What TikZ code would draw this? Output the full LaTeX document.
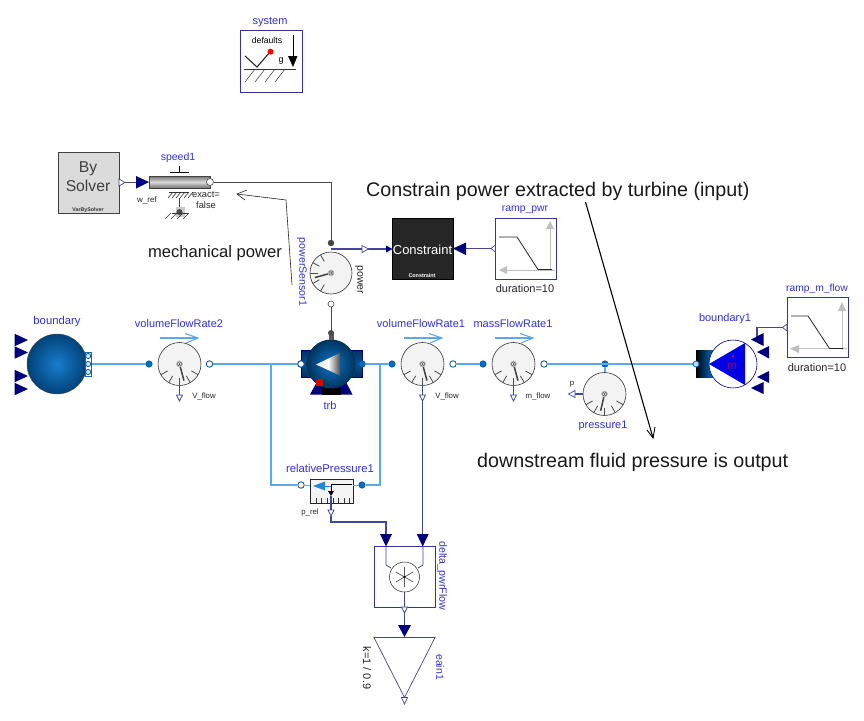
\documentclass[tikz,border=0pt]{standalone}
\usepackage{fontspec}
\setmainfont{Liberation Sans}
\usetikzlibrary{arrows.meta,calc}
\definecolor{nblue}{RGB}{50,50,210}
\definecolor{navyc}{RGB}{0,0,127}
\definecolor{sigc}{RGB}{70,70,150}
\definecolor{flu}{RGB}{90,170,235}
\definecolor{flud}{RGB}{0,110,200}
\definecolor{mech}{RGB}{70,70,70}
\definecolor{dial}{RGB}{243,243,243}
\tikzset{
 x=1pt,y=-1pt,
 lbl/.style={font=\fontsize{11}{12}\selectfont,text=nblue,inner sep=0pt},
 tiny/.style={font=\fontsize{7.8}{9}\selectfont,text=black!85,inner sep=0pt},
 par/.style={font=\fontsize{11}{12}\selectfont,text=black!85,inner sep=0pt},
 note/.style={font=\fontsize{19.7}{22}\selectfont,text=black!90,inner sep=0pt},
 blockbox/.style={draw=navyc!80!white,line width=.9pt,fill=white,inner sep=0pt},
 sig/.style={draw=sigc,line width=1.2pt},
 fl/.style={draw=flu,line width=1.25pt},
 mc/.style={draw=mech,line width=1pt},
 portA/.style={circle,draw=flud!70!black,fill=flud,minimum size=6.5pt,inner sep=0pt,line width=.5pt},
 portB/.style={circle,draw=flud!70!black,fill=white,minimum size=6.5pt,inner sep=0pt,line width=.8pt},
 mcfill/.style={circle,draw=mech,fill=mech,minimum size=6pt,inner sep=0pt},
 mcopen/.style={circle,draw=mech,fill=white,minimum size=6pt,inner sep=0pt,line width=.6pt},
 outp/.style={draw=sigc,fill=white,line width=.7pt},
 inp/.style={fill=navyc,draw=none},
}
\newcommand{\dialgauge}[5]{%
 \node[circle,draw=black!80,fill=dial,minimum size=#4*2pt,inner sep=0pt,line width=.6pt] (#1) at (#2,#3) {};
 \begin{scope}[shift={(#2,#3)}]
  \foreach \a in {#5} {\draw[black!70,line width=.8pt] (\a:#4*.64) -- (\a:#4);}
 \end{scope}}
\newcommand{\dialneedle}[4]{%
 \begin{scope}[shift={(#1,#2)}]
  \draw[black!75,line width=1.5pt] (0,0) -- (#4:#3*.8);
  \fill[black!25] (0,0) circle (3.4pt);
  \draw[black!70,line width=.5pt,fill=white] (0,0) circle (2pt);
  \fill[black!70] (0,0) circle (1pt);
 \end{scope}}
\newcommand{\flowarrow}[2]{% left x, y
 \draw[flu,line width=1.1pt] (#1,#2) -- (#1+38,#2);
 \draw[flu,line width=1.1pt] (#1+25,#2-4.5) -- (#1+38,#2) -- (#1+26,#2+5);}
\begin{document}
\begin{tikzpicture}
\useasboundingbox (0,0) rectangle (864,720);
\fill[white] (0,0) rectangle (864,720);

%% system
\node[lbl] (systemlbl) at (270,22) {system};
\node[blockbox,minimum width=62pt,minimum height=62pt] (system) at (271,61) {};
\node[font=\fontsize{8.6}{9}\selectfont,inner sep=0pt] (deflbl) at (267,40) {defaults};
\draw[black!85,line width=1.1pt] (245,56) -- (257,67) -- (270,52);
\fill[red] (270.5,51.7) circle (3pt);
\draw[black!80,line width=.6pt] (244,69) -- (296,69);
\foreach \xx in {255,265,275,285} \draw[black!80,line width=.5pt] (\xx,69) -- (\xx-10,82);
\draw[black,line width=.9pt] (293,35) -- (293,58);
\fill[black] (288,56) -- (297.5,56) -- (293,67) -- cycle;
\node[font=\fontsize{9}{10}\selectfont,inner sep=0pt] (glbl) at (281,61) {g};

%% By solver
\node[draw=black!75,fill=black!14,line width=.7pt,minimum width=61pt,minimum height=61pt,inner sep=0pt] (bysolver) at (88.5,182.5) {};
\node[font=\fontsize{15.7}{19}\selectfont,align=center,text=black!75,inner sep=0pt] (bytxt) at (88,177) {By\\Solver};
\node[font=\fontsize{5.3}{6}\selectfont\bfseries,text=black!80,inner sep=0pt] (vtxt) at (88,210) {VarBySolver};

%% speed1
\node[lbl,font=\fontsize{10.5}{12}\selectfont] (speedlbl) at (178,158) {speed1};
\shade[top color=black!55,bottom color=black!55,middle color=black!15,draw=none] (149,176) rectangle (210,188);
\draw[black!75,line width=.5pt] (149,176) rectangle (210,188);
\draw[black,line width=.5pt] (170,172) -- (189,172) (179,172) -- (179,166);
\foreach \xx in {173,177,181,185,189,193} \draw[black!80,line width=.6pt] (\xx,192) -- (\xx-5,198);
\draw[black!80,line width=.5pt] (169,192) -- (189,192);
\draw[mech,line width=.6pt] (179,198) -- (179,210);
\fill[black!20] (175.5,207) rectangle (185,217);
\fill[black!70] (179.5,212) circle (3pt);
\draw[black!80,line width=.4pt] (172,213) -- (188,213);
\foreach \xx in {171,177,183,189} \draw[black!80,line width=.4pt] (\xx,213) -- (\xx-6,219);
\node[tiny,font=\fontsize{8}{9}\selectfont] (wref) at (147,200.5) {w\_ref};
\node[tiny,align=center,font=\fontsize{9.3}{11}\selectfont] (exact) at (206,200.5) {exact=\\false};

%% connectors top
\draw[sig] (bysolver.east) -- (137,182.5);
\draw[outp] (119,179) -- (125,182.5) -- (119,186) -- cycle;
\fill[inp] (136,176) -- (149,182) -- (136,188.5) -- cycle;
\node[mcopen,minimum size=7pt] (speedport) at (210,182) {};
\node[mcfill] (pwt) at (331,243) {};
\node[mcopen] (pwb) at (331,304) {};
\draw[mc] (speedport) -- (331,182) -- (pwt);

%% annotation arrow mech power
\coordinate (mpa) at (292,285);
\coordinate (mpb) at (286,200);
\coordinate (mpc) at (237,194);
\draw[black!85,line width=.6pt] (mpa) -- (mpb) -- (mpc);
\draw[black!85,line width=.6pt] (247,190) -- (mpc) -- (245,200);
\node[note,font=\fontsize{16.6}{18}\selectfont] (mptxt) at (215,253) {mechanical power};
\node[lbl,font=\fontsize{10.6}{12}\selectfont,rotate=-90] (ps) at (302,272) {powerSensor1};

%% power sensor
\dialgauge{pw}{331}{273}{21}{120,150,180,210,240}
\dialneedle{331}{273}{21}{164}
\node[par,rotate=-90,font=\fontsize{10.5}{12}\selectfont] (pwl) at (359,280) {power};
\draw[mc] (pwb) -- (331,332);
\coordinate (pws) at (331,249);
\draw[sig] (pws) -- (387,249);
\draw[outp] (362,245.5) -- (368.5,249) -- (362,252.5) -- cycle;
\fill[inp] (386,245.5) -- (392.5,249) -- (386,252.5) -- cycle;

%% Constraint
\node[draw=black,fill=black!85,minimum width=61pt,minimum height=61pt,inner sep=0pt] (constr) at (422.5,248.5) {};
\node[font=\fontsize{13}{14}\selectfont,text=white,inner sep=0pt] (ctxt) at (422.5,249.5) {Constraint};
\node[font=\fontsize{5.4}{6}\selectfont\bfseries,text=white,inner sep=0pt] (c2) at (422,276) {Constraint};

%% ramp_pwr
\node[lbl,font=\fontsize{10.4}{12}\selectfont] (rplbl) at (525,210) {ramp\_pwr};
\node[blockbox,minimum width=61pt,minimum height=61pt] (rp) at (526,248.5) {};
\draw[black!25,line width=1pt] (550,271) -- (550,228);
\fill[black!25] (546,229) -- (554,229) -- (550,221) -- cycle;
\draw[black!25,line width=1pt] (506,270) -- (555,270);
\fill[black!25] (507,266) -- (507,274) -- (499,270) -- cycle;
\draw[black!85,line width=.8pt] (499,237) -- (517,237) -- (538,269.5) -- (552,269.5);
\node[par] (rpd) at (525,289) {duration=10};
\draw[sig] (constr.east) -- (rp.west);
\draw[outp] (495.5,245) -- (491,248.5) -- (495.5,252) -- cycle;
\fill[navyc] (466,242.5) -- (466,255) -- (453,248.5) -- cycle;

%% Main flow lines
\node[portA] (bv2a) at (149,364) {};
\node[portB] (bv2b) at (209.5,364) {};
\node[portB] (trbl) at (301,364) {};
\node[portA] (trbr) at (362,364) {};
\node[portA] (v1a) at (392,364) {};
\node[portB] (v1b) at (453,364) {};
\node[portA] (m1a) at (483,364) {};
\node[portB] (m1b) at (544,364) {};
\node[portA] (pr1) at (605,364) {};
\node[portB] (rpa) at (301,485) {};
\node[portA] (rpb) at (362,485) {};
\coordinate (bd) at (89,364);
\coordinate (bd1) at (696,364);
\coordinate (tj) at (271,364);
\coordinate (tk) at (380,364);
\draw[fl] (bd) -- (bv2a);
\draw[fl] (bv2b) -- (trbl);
\draw[fl] (trbr) -- (v1a);
\draw[fl] (v1b) -- (m1a);
\draw[fl] (m1b) -- (bd1);
\draw[fl] (pr1) -- (605,373);
\draw[fl] (tj) |- (rpa);
\draw[fl] (tk) |- (rpb);

%% boundary
\foreach \yy in {340,352.5,376,389}{\fill[navyc] (14.5,\yy-6.3) -- (28,\yy) -- (14.5,\yy+6.3) -- cycle;}
\shade[inner color=flud!90!white,outer color=flud!60!black] (57,364) circle (30pt);
\draw[black!70,line width=.4pt] (57,364) circle (30pt);
\draw[flud,line width=.6pt,fill=white] (85,352.5) rectangle (91.5,376);
\foreach \yy in {356,364,372}{\draw[flud!70!black,line width=.7pt,fill=white!70!flu] (88.2,\yy) circle (2.6pt);}
\node[lbl,font=\fontsize{11.3}{12}\selectfont] (bdl) at (57,322) {boundary};

%% volumeFlowRate2
\node[lbl] (vf2l) at (179,323.5) {volumeFlowRate2};
\flowarrow{160}{338}
\dialgauge{vf2}{179.5}{364}{21.5}{30,60,90,120,150}
\dialneedle{179.5}{364}{21.5}{75}
\draw[sig] (179.5,385.5) -- (179.5,395);
\draw[outp] (176.5,395) -- (182.5,395) -- (179.5,401) -- cycle;
\node[tiny] (vf2t) at (204,396.5) {V\_flow};

%% turbine
\shade[top color=flud!45!black,bottom color=flud!45!black,middle color=flud!75!black] (301,350) rectangle (362,377);
\draw[navyc,line width=.4pt] (301,350) rectangle (362,377);
\fill[navyc] (310,394.5) -- (352.5,394.5) -- (345,380) -- (318,380) -- cycle;
\fill[black] (322,388) rectangle (341,394.5);
\shade[inner color=flud!95!white,outer color=flud!45!black] (331,364) circle (24.5pt);
\fill[black!65] (328.5,332) rectangle (334,340);
\fill[black!70] (331,333) circle (3pt);
\shade[left color=black!12,right color=black!70,middle color=white] (316,364.5) -- (340,353) -- (340,375.5) -- cycle;
\fill[red!85!black] (316,379) rectangle (322.5,385.5);
\node[lbl] (trbt) at (330,406) {trb};
\node[portB] (trblp) at (301,364) {};
\node[portA] (trbrp) at (362,364) {};

%% volumeFlowRate1
\node[lbl] (vf1l) at (421,324) {volumeFlowRate1};
\flowarrow{404}{338}
\dialgauge{vf1}{422.5}{364}{21.5}{30,60,90,120,150}
\dialneedle{422.5}{364}{21.5}{75}
\draw[sig] (422.5,385.5) -- (422.5,395);
\draw[outp] (419.5,395) -- (425.5,395) -- (422.5,401) -- cycle;
\node[tiny] (vf1t) at (447,396.5) {V\_flow};

%% massFlowRate1
\node[lbl] (mf1l) at (513,324) {massFlowRate1};
\flowarrow{495}{338}
\dialgauge{mf1}{513.5}{364}{21.5}{30,60,90,120,150}
\dialneedle{513.5}{364}{21.5}{75}
\draw[sig] (513.5,385.5) -- (513.5,395);
\draw[outp] (510.5,395) -- (516.5,395) -- (513.5,401) -- cycle;
\node[tiny] (mf1t) at (538,396.5) {m\_flow};

%% pressure1
\dialgauge{pr}{604.5}{394}{21.5}{30,60,90,120,150}
\dialneedle{604.5}{394}{21.5}{103}
\draw[sig] (583,394) -- (575,394);
\draw[outp] (575,390.5) -- (575,397.5) -- (568.5,394) -- cycle;
\node[tiny] (plbl) at (572,384.5) {p};
\node[lbl] (prl) at (603,426) {pressure1};

%% boundary1
\shade[left color=black,right color=flud] (696,350) rectangle (713,377);
\node[circle,draw=navyc!80!blue,fill=white,minimum size=48pt,inner sep=0pt,line width=.6pt] (bd1c) at (733,364) {};
\fill[blue!90!black] (709,364) -- (745,343) -- (745,385) -- cycle;
\node[font=\fontsize{12}{14}\selectfont,text=red!60!blue,inner sep=0pt] (mdot) at (732,366) {m};
\fill[red!80!blue] (733,356) circle (1.2pt);
\node[portB,minimum size=6pt,draw=flud,fill=white!60!flu] (bd1p) at (696,364) {};
\node[lbl] (bd1l) at (725,319) {boundary1};

%% ramp_m_flow
\node[lbl,font=\fontsize{10.3}{12}\selectfont] (rml) at (817,289) {ramp\_m\_flow};
\node[blockbox,minimum width=61pt,minimum height=60pt] (rm) at (817.5,327.5) {};
\draw[black!25,line width=1pt] (842,350) -- (842,310);
\fill[black!25] (838,311) -- (846,311) -- (842,302) -- cycle;
\draw[black!25,line width=1pt] (798,348.7) -- (847,348.7);
\fill[black!25] (799,345) -- (799,353) -- (790,348.7) -- cycle;
\draw[black!85,line width=.8pt] (791,316) -- (808,316) -- (829.5,348.5) -- (843,348.5);
\node[par] (rmd) at (817,368) {duration=10};
\coordinate (bd1in) at (757,338);
\draw[sig] (rm.west) -- (757,327.5) -- (bd1in);
\draw[outp] (787,324) -- (782.5,327.5) -- (787,331) -- cycle;
\fill[navyc] (751,339.5) -- (763.5,333) -- (763.5,346) -- cycle;
\fill[navyc] (757,352) -- (769,346) -- (769,358.5) -- cycle;
\fill[navyc] (757,377) -- (769,371) -- (769,383) -- cycle;
\fill[navyc] (751,388) -- (763.5,382) -- (763.5,394) -- cycle;

%% relative pressure
\node[lbl,font=\fontsize{11.3}{12}\selectfont] (rpl) at (330,468) {relativePressure1};
\node[draw=black!85,fill=dial,minimum width=43pt,minimum height=24pt,inner sep=0pt,line width=.6pt] (rpbox) at (331.5,491) {};
\foreach \xx in {316,321.5,327,333,338,344,349} \draw[black!80,line width=.5pt] (\xx,503) -- (\xx,498);
\draw[flu,line width=1pt] (rpa) -- (rpbox.west |- rpa);
\draw[flu,line width=1pt] (rpb) -- (rpbox.east |- rpb);
\fill[flud!60!flu] (313,486) -- (325,481.5) -- (325,490.5) -- cycle;
\draw[flud!60!flu,line width=1pt] (325,486) -- (332,486);
\draw[black,line width=.7pt] (352,484.5) -- (331,484.5) -- (331,491);
\fill[black] (328,491) -- (334,491) -- (331,496) -- cycle;
\draw[sig] (331,496) -- (331,510);
\node[tiny] (prel) at (310,512) {p\_rel};
\coordinate (prelout) at (331,516);
\draw[outp] (328,510) -- (334,510) -- (prelout) -- cycle;

%% delta_pwrFlow
\node[blockbox,minimum width=61pt,minimum height=61pt] (delta) at (404.5,577) {};
\node[circle,draw=black!85,fill=white,minimum size=30pt,inner sep=0pt,line width=.5pt] (mult) at (404.5,577) {};
\foreach \a in {30,90,150} \draw[black!65,line width=.7pt] ($(mult.center)+(\a:-10)$) -- ($(mult.center)+(\a:10)$);
\fill[black] (mult.center) circle (1.1pt);
\draw[sigc,line width=.8pt] (386,546) -- (386,565) -- (391,568);
\draw[sigc,line width=.8pt] (423,546) -- (423,565) -- (418,568);
\draw[sigc,line width=.8pt] (mult.south) -- (404.5,607);
\coordinate (dlin) at (386,535);
\coordinate (drin) at (422.7,535);
\draw[sig] (prelout) -- (331,522) -- (386,522) -- (dlin);
\draw[sig] (422.7,401) -- (drin);
\fill[navyc] (380,534) -- (392,534) -- (386,546.5) -- cycle;
\fill[navyc] (416.7,534) -- (428.7,534) -- (422.7,546.5) -- cycle;
\draw[outp] (401.5,607) -- (407.5,607) -- (404.5,613) -- cycle;
\node[lbl,rotate=-90,font=\fontsize{10.6}{12}\selectfont] (dl) at (442,576) {delta\_pwrFlow};

%% gain
\draw[sig] (404.5,613) -- (404.5,625);
\fill[navyc] (398,625) -- (411,625) -- (404.5,637) -- cycle;
\draw[sigc,line width=.7pt,fill=white] (374,637.5) -- (435,637.5) -- (404.5,697.5) -- cycle;
\draw[outp] (401.5,697.5) -- (407.5,697.5) -- (404.5,704) -- cycle;
\node[lbl,rotate=-90,font=\fontsize{10.5}{11}\selectfont] (gl) at (440,667) {eain1};
\node[par,rotate=-90,font=\fontsize{11}{12}\selectfont] (kl) at (367,668) {k=1 / 0.9};

%% annotations
\node[note,anchor=west] (n1) at (366,191) {Constrain power extracted by turbine (input)};
\node[note,anchor=west] (n2) at (477,462) {downstream fluid pressure is output};
\coordinate (a1) at (585.5,202);
\coordinate (a2) at (653,438);
\draw[black,line width=1.1pt] (a1) -- (a2);
\draw[black,line width=.9pt] (647,430) -- (a2) -- (655,427);
\end{tikzpicture}
\end{document}
